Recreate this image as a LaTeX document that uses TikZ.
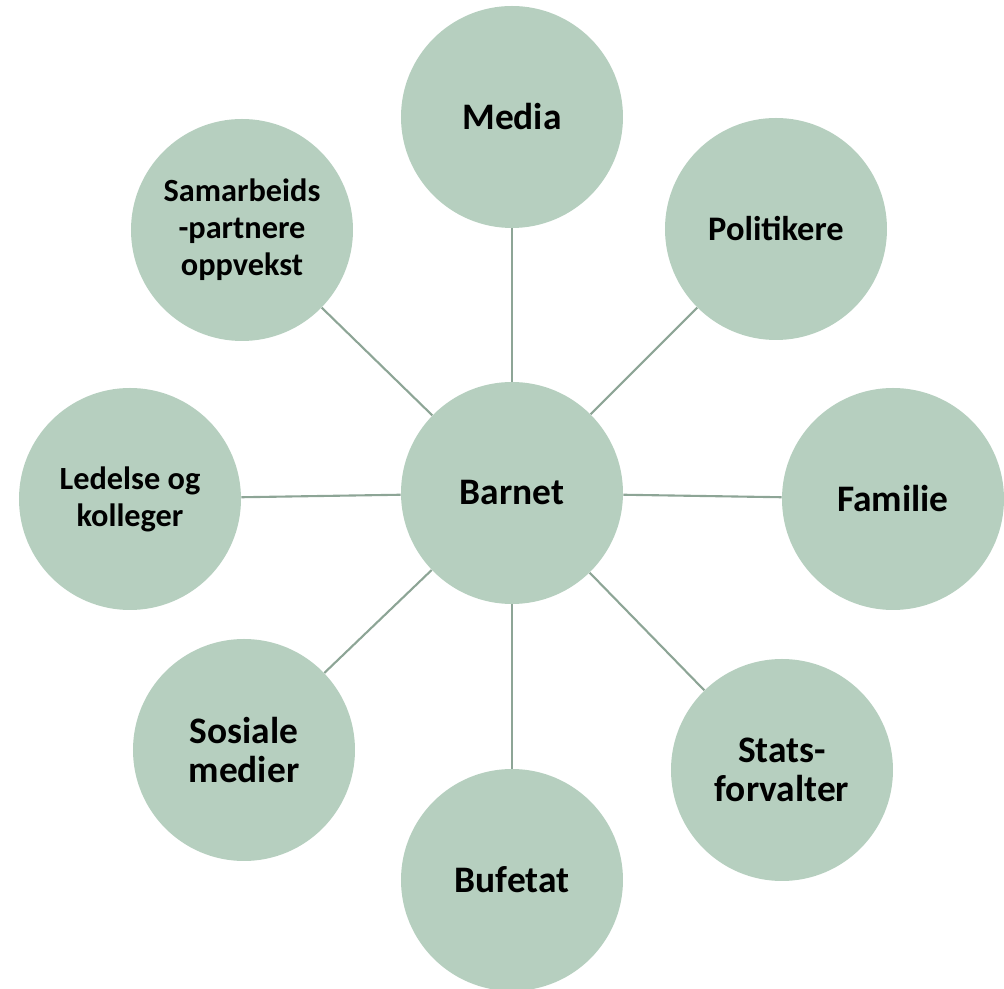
\documentclass[tikz,border=0pt]{standalone}
\usepackage{fontspec}
\setmainfont{Carlito}
\usepackage{tikz}
\usetikzlibrary{positioning}
\definecolor{circlefill}{HTML}{B6CFBF}
\definecolor{linkgray}{HTML}{8DA596}

\begin{document}
\begin{tikzpicture}[
circ/.style={
circle,
fill=circlefill,
minimum size=4.44cm,
inner sep=0pt,
align=center,
font=\bfseries\fontsize{21.3}{22.5}\selectfont
},
circsmall/.style={
circ,
font=\bfseries\fontsize{18.4}{21}\selectfont
},
link/.style={draw=linkgray,line width=1.2pt}
]

\useasboundingbox (-10.24,-9.92) rectangle (9.84,9.86);

%---------------- Centre ----------------%

\node[circ] (barnet) at (0,0) {Barnet};

%---------------- Around ----------------%

\node[circ] (media) at (0,7.52) {Media};

\node[circsmall,font=\bfseries\fontsize{19.6}{21}\selectfont]
(politikere) at (5.28,5.28) {Politikere};

\node[circ] (familie) at (7.62,-0.12) {Familie};

\node[circ] (stats) at (5.4,-5.54) {Stats-\\forvalter};

\node[circ] (bufetat) at (0,-7.74) {Bufetat};

\node[circ] (sosiale) at (-5.36,-5.14) {Sosiale\\medier};

\node[circsmall] (ledelse) at (-7.64,-0.12) {Ledelse og\\kolleger};

\node[circsmall] (samarbeid) at (-5.4,5.26)
{Samarbeids\\-partnere\\oppvekst};

%---------------- Connections ----------------%

\draw[link] (barnet)--(media);
\draw[link] (barnet)--(politikere);
\draw[link] (barnet)--(familie);
\draw[link] (barnet)--(stats);
\draw[link] (barnet)--(bufetat);
\draw[link] (barnet)--(sosiale);
\draw[link] (barnet)--(ledelse);
\draw[link] (barnet)--(samarbeid);

\end{tikzpicture}
\end{document}
